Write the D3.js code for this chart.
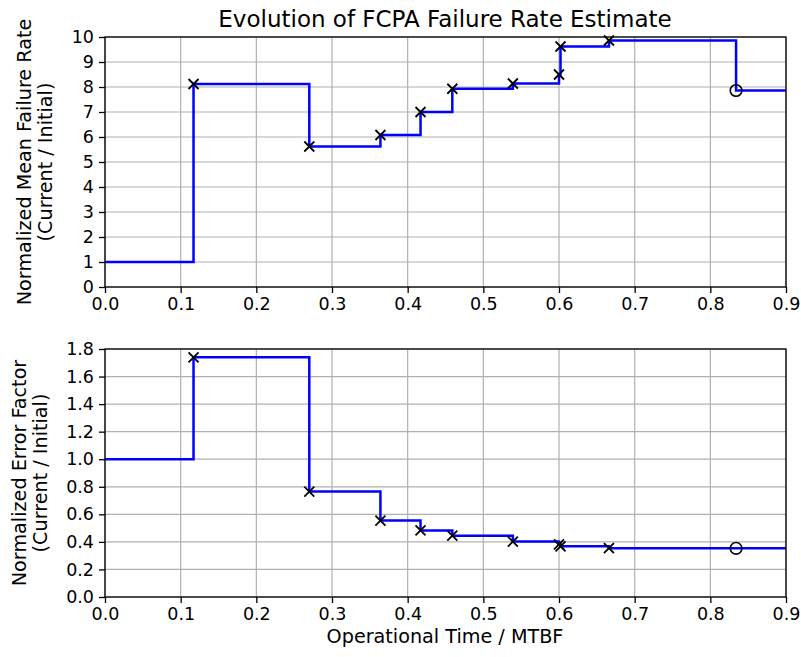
<!DOCTYPE html>
<html>
<head>
<meta charset="utf-8">
<script src="https://cdn.jsdelivr.net/npm/d3@7"></script>
<style>
    body { margin: 0; background: #fff; }
    text { font-family: "DejaVu Sans", sans-serif; fill: #000; }
</style>
</head>
<body>
<div id="chart"></div>
<script>
// data
var eventTimes = [0.117, 0.270, 0.364, 0.417, 0.459, 0.539, 0.600, 0.602, 0.666];
var currentTime = 0.834;
var endTime = 0.9;

var meanRateInitial = 1.0;
var meanRateEvents = [8.12, 5.62, 6.08, 7.0, 7.93, 8.14, 8.5, 9.62, 9.86];
var meanRateCurrent = 7.86;

var errFactorInitial = 1.0;
var errFactorEvents = [1.74, 0.765, 0.555, 0.483, 0.445, 0.402, 0.382, 0.368, 0.354];
var errFactorCurrent = 0.353;

var xTicks = [0, 0.1, 0.2, 0.3, 0.4, 0.5, 0.6, 0.7, 0.8, 0.9];
var meanTicks = [0, 1, 2, 3, 4, 5, 6, 7, 8, 9, 10];
var errTicks = [0, 0.2, 0.4, 0.6, 0.8, 1.0, 1.2, 1.4, 1.6, 1.8];

var svgWidth = 801;
var svgHeight = 657;

var svg = d3.select("#chart")
    .append("svg")
    .attr("width", svgWidth)
    .attr("height", svgHeight);

var xScale = d3.scaleLinear()
    .domain([0, 0.9])
    .range([105, 786]);

// draw one panel of the figure
function drawPanel(opts) {
    var yScale = d3.scaleLinear()
        .domain(opts.domain)
        .range([opts.bottom, opts.top]);

    var g = svg.append("g");

    // grid
    g.selectAll(".vgrid")
        .data(xTicks)
        .enter()
        .append("line")
        .attr("x1", d => xScale(d))
        .attr("x2", d => xScale(d))
        .attr("y1", opts.top)
        .attr("y2", opts.bottom)
        .attr("stroke", "#b0b0b0")
        .attr("stroke-width", 1.2);

    g.selectAll(".hgrid")
        .data(opts.ticks)
        .enter()
        .append("line")
        .attr("x1", xScale.range()[0])
        .attr("x2", xScale.range()[1])
        .attr("y1", d => yScale(d))
        .attr("y2", d => yScale(d))
        .attr("stroke", "#b0b0b0")
        .attr("stroke-width", 1.2);

    // step line
    var pts = [[0, opts.initial]];
    eventTimes.forEach((t, i) => pts.push([t, opts.events[i]]));
    pts.push([currentTime, opts.current]);
    pts.push([endTime, opts.current]);

    var line = d3.line()
        .x(d => xScale(d[0]))
        .y(d => yScale(d[1]))
        .curve(d3.curveStepAfter);

    g.append("path")
        .datum(pts)
        .attr("d", line)
        .attr("fill", "none")
        .attr("stroke", "#0000ff")
        .attr("stroke-width", 2.5);

    // x markers at each event
    var s = 5;
    var marks = g.selectAll(".mark")
        .data(eventTimes.map((t, i) => [t, opts.events[i]]))
        .enter()
        .append("path")
        .attr("d", d => {
            var cx = xScale(d[0]), cy = yScale(d[1]);
            return `M${cx - s},${cy - s}L${cx + s},${cy + s}M${cx - s},${cy + s}L${cx + s},${cy - s}`;
        })
        .attr("stroke", "#000")
        .attr("stroke-width", 1.8)
        .attr("fill", "none");

    // open circle at the current time
    g.append("circle")
        .attr("cx", xScale(currentTime))
        .attr("cy", yScale(opts.current))
        .attr("r", 5.8)
        .attr("fill", "none")
        .attr("stroke", "#000")
        .attr("stroke-width", 1.6);

    // axes
    var bottomAxis = d3.axisBottom(xScale)
        .tickValues(xTicks)
        .tickFormat(d3.format(".1f"))
        .tickSizeOuter(0)
        .tickSize(6)
        .tickPadding(5);
    var leftAxis = d3.axisLeft(yScale)
        .tickValues(opts.ticks)
        .tickFormat(opts.format)
        .tickSizeOuter(0)
        .tickSize(6)
        .tickPadding(5);

    var xa = g.append("g")
        .attr("transform", `translate(0, ${opts.bottom})`)
        .call(bottomAxis);
    var ya = g.append("g")
        .attr("transform", `translate(${xScale.range()[0]}, 0)`)
        .call(leftAxis);

    [xa, ya].forEach(a => {
        a.selectAll("text")
            .style("font-size", "17.5px")
            .style("font-family", "DejaVu Sans")
            .attr("fill", "#000");
        a.selectAll("line").attr("stroke", "#000").attr("stroke-width", 1.3);
        a.select(".domain").remove();
    });

    // frame
    g.append("rect")
        .attr("x", xScale.range()[0])
        .attr("y", opts.top)
        .attr("width", xScale.range()[1] - xScale.range()[0])
        .attr("height", opts.bottom - opts.top)
        .attr("fill", "none")
        .attr("stroke", "#000")
        .attr("stroke-width", 1.3);

    // y axis label, two lines
    var cy = (opts.top + opts.bottom) / 2;
    opts.label.forEach((txt, i) => {
        g.append("text")
            .attr("transform", `translate(${opts.labelX[i]}, ${cy}) rotate(-90)`)
            .attr("text-anchor", "middle")
            .style("font-size", "19.2px")
            .text(txt);
    });
}

drawPanel({
    top: 37, bottom: 287,
    domain: [0, 10],
    ticks: meanTicks,
    format: d3.format("d"),
    initial: meanRateInitial,
    events: meanRateEvents,
    current: meanRateCurrent,
    label: ["Normalized Mean Failure Rate", "(Current / Initial)"],
    labelX: [31, 52]
});

drawPanel({
    top: 349, bottom: 597,
    domain: [0, 1.8],
    ticks: errTicks,
    format: d3.format(".1f"),
    initial: errFactorInitial,
    events: errFactorEvents,
    current: errFactorCurrent,
    label: ["Normalized Error Factor", "(Current / Initial)"],
    labelX: [26, 47]
});

// title
svg.append("text")
    .attr("x", 445)
    .attr("y", 27)
    .attr("text-anchor", "middle")
    .style("font-size", "23px")
    .text("Evolution of FCPA Failure Rate Estimate");

// x axis label
svg.append("text")
    .attr("x", 445)
    .attr("y", 643)
    .attr("text-anchor", "middle")
    .style("font-size", "19.2px")
    .text("Operational Time / MTBF");
</script>
</body>
</html>
